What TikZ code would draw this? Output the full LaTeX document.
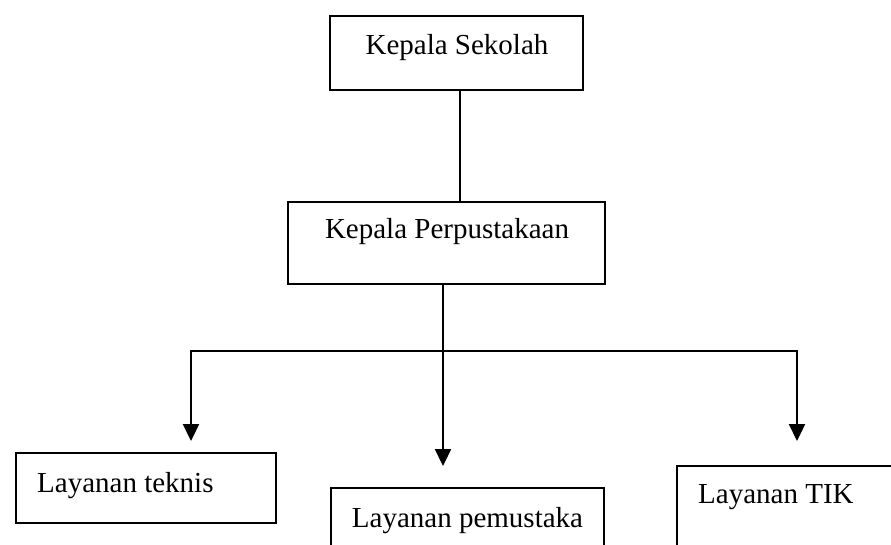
\documentclass[tikz,border=0pt]{standalone}
\usepackage{fontspec}
\setmainfont{Liberation Serif}
\usetikzlibrary{arrows.meta}
\tikzset{
  boxnode/.style={draw, rectangle, line width=1.3pt, inner sep=0pt},
  lbl/.style={inner sep=0pt, font=\fontsize{29}{34}\selectfont},
  conn/.style={line width=2.3pt},
  arr/.style={line width=2.3pt, -{Triangle[length=17pt,width=16pt]}}
}
\begin{document}
\begin{tikzpicture}[x=1pt,y=-1pt]
\useasboundingbox (0,0) rectangle (891,545);
\clip (0,0) rectangle (891,545);
% boxes
\node[boxnode, minimum width=253pt, minimum height=74pt] (ks) at (456.5,53) {};
\node[boxnode, minimum width=317pt, minimum height=82pt] (kp) at (446.5,243) {};
\node[boxnode, minimum width=260pt, minimum height=70pt] (lt) at (146,488) {};
\node[boxnode, minimum width=273pt, minimum height=87pt] (lp) at (467.5,531.5) {};
\node[boxnode, minimum width=273pt, minimum height=114pt] (lk) at (813.5,523) {};
% texts
\node[lbl, anchor=base] (tks) at (457,55) {Kepala Sekolah};
\node[lbl, anchor=base] (tkp) at (447,239) {Kepala Perpustakaan};
\node[lbl, anchor=base west] (tlt) at (37,492) {Layanan teknis};
\node[lbl, anchor=base] (tlp) at (467.5,527) {Layanan pemustaka};
\node[lbl, anchor=base west] (tlk) at (698,503) {Layanan TIK};
% connector coordinates
\coordinate (j) at (443,351);
\coordinate (cl) at (191,351);
\coordinate (cr) at (797,351);
\coordinate (tl) at (191,441);
\coordinate (tm) at (443,466);
\coordinate (tr) at (797,441);
% connectors
\draw[conn] ([xshift=3.5pt]ks.south) -- ([xshift=3.5pt]ks.south |- kp.north);
\draw[arr] ([xshift=-3.5pt]kp.south) -- (tm);
\draw[arr] (j) -- (cl) -- (tl);
\draw[arr] (j) -- (cr) -- (tr);
\end{tikzpicture}
\end{document}
